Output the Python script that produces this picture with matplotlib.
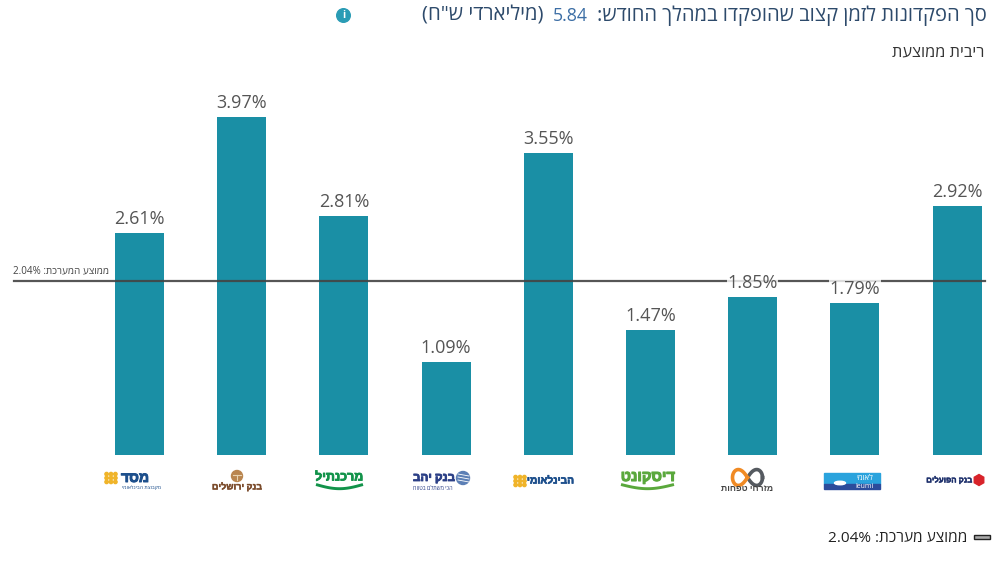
import re
import numpy as np
import matplotlib
matplotlib.use("Agg")
import matplotlib.pyplot as plt
import matplotlib.patheffects as pe
from matplotlib.patches import Circle, Rectangle, RegularPolygon, Ellipse

plt.rcParams["font.family"] = ["Open Sans", "Liberation Sans", "DejaVu Sans"]

# Average interest rate per bank, in percent
banks = ["מסד", "בנק ירושלים", "מרכנתיל", "בנק יהב", "הבינלאומי",
         "דיסקונט", "מזרחי טפחות", "לאומי", "בנק הפועלים"]
rates = [2.61, 3.97, 2.81, 1.09, 3.55, 1.47, 1.85, 1.79, 2.92]
system_avg = 2.04
total_deposits = 5.84

title_main = "סך הפקדונות לזמן קצוב שהופקדו במהלך החודש:"
title_unit = '(מיליארדי ש"ח)'
subtitle = "ריבית ממוצעת"
avg_line_label = "ממוצע המערכת:"
legend_label = "ממוצע מערכת:"

W, H = 999, 565
BAR = "#1a8fa5"
TEXT = "#555555"
NAVY = "#2d4a6b"
MIRROR = str.maketrans("()", ")(")


def rtl(s):
    """Return a Hebrew string in display order, since text layout here is left-to-right only."""
    flipped = s[::-1].translate(MIRROR)
    return re.sub(r"[0-9.%]+", lambda m: m.group(0)[::-1], flipped)


fig = plt.figure(figsize=(W / 100, H / 100), dpi=100, facecolor="white")

# Chart axes: one category step is 102.2 px, the zero line sits 110 px above the bottom edge
ax = fig.add_axes([0, 0, 1, 1])
px_per_cat = 102.2
px_per_unit = 85.15
first_x, zero_y = 139.5, 455
ax.set_xlim(-first_x / px_per_cat, (W - first_x) / px_per_cat)
ax.set_ylim((zero_y - H) / px_per_unit, zero_y / px_per_unit)
ax.axis("off")

positions = np.arange(len(banks))
ax.bar(positions, rates, width=0.48, color=BAR, zorder=2)
ax.axhline(system_avg, xmin=14 / W, xmax=985 / W, color="#444444", lw=1.6, alpha=0.9, zorder=3)
for x, v in zip(positions, rates):
    ax.annotate(f"{v:.2f}%", (x, v), xytext=(0, 3.6), textcoords="offset points", ha="center", va="bottom",
                fontsize=13, color=TEXT, zorder=5,
                bbox=dict(boxstyle="square,pad=0.02", fc="white", ec="none", alpha=0.8))

# Overlay in pixel units for headings, legend and bank marks
px = fig.add_axes([0, 0, 1, 1], facecolor="none")
px.set_xlim(0, W)
px.set_ylim(H, 0)
px.axis("off")


def fit(s, x0, x1, y, color, weight="normal", stroke=0):
    """Place text so that it spans x0..x1 horizontally."""
    t = px.text((x0 + x1) / 2, y, rtl(s), ha="center", va="center", fontsize=10,
                color=color, fontweight=weight)
    w = t.get_window_extent(fig.canvas.get_renderer()).width
    t.set_fontsize(10 * (x1 - x0) / w)
    if stroke:
        t.set_path_effects([pe.withStroke(linewidth=stroke, foreground=color)])
    return t


fit(title_main, 598, 985, 16, NAVY)
px.text(570.5, 16, f"{total_deposits:.2f}", ha="center", va="center", fontsize=12.8, color="#3c6ea5")
fit(title_unit, 422, 543, 16, NAVY)
fit(subtitle, 892, 984, 52.5, "#333333")
px.add_patch(Circle((343.5, 15.5), 6.8, color="#2a9cb5"))
px.text(343.5, 15.5, "i", ha="center", va="center", fontsize=7.5, color="white", fontweight="bold")

fit(f"{avg_line_label} {system_avg:.2f}%", 13, 109, 271, "#444444")

fit(f"{legend_label} {system_avg:.2f}%", 828, 967, 538, "#222222")
px.add_patch(Rectangle((973.5, 535), 16, 4, fc="#aaaaaa", ec="#222222", lw=1.0))


def flower(cx, cy, color="#f0b429"):
    for i in range(-1, 2):
        for j in range(-1, 2):
            px.add_patch(Circle((cx + i * 4.4, cy + j * 3.9), 1.7, color=color))


def smile(x0, x1, y, color):
    t = np.linspace(0, 1, 40)
    xs = x0 + (x1 - x0) * t
    curve = 4.2 * np.sin(np.pi * t)
    px.plot(xs, y + curve, color=color, lw=2.1, solid_capstyle="butt")


def infinity(cx, cy, a):
    t = np.linspace(0, 2 * np.pi, 200)
    xs = cx + a * np.cos(t) / (1 + np.sin(t) ** 2)
    ys = cy + 1.5 * a * np.sin(t) * np.cos(t) / (1 + np.sin(t) ** 2)
    right = xs >= cx
    px.plot(np.where(right, xs, np.nan), ys, color="#555a60", lw=2.6)
    px.plot(np.where(right, np.nan, xs), ys, color="#f08a24", lw=2.6)


# Bank marks along the category axis
GREEN_M, GREEN_D, BLUE = "#12934a", "#5aa83c", "#1d4f8c"

flower(111, 478)
fit("מסד", 121, 149, 478, BLUE, "bold", 0.7)
fit("מקבוצת הבינלאומי", 122, 161, 488, BLUE)

px.add_patch(Circle((237, 476), 5.5, color="#b9854f"))
px.plot([233, 241], [475, 475], color="#e8d2b0", lw=0.8)
px.plot([237, 237], [475, 480], color="#e8d2b0", lw=0.8)
fit("בנק ירושלים", 212, 262, 487, "#7a4a2a", "bold", 0.3)

fit("מרכנתיל", 315, 363, 477, GREEN_M, "bold", 0.6)
smile(316, 363, 484.5, GREEN_M)

fit("בנק יהב", 413, 455, 477.5, "#2b3f86", "bold", 0.6)
px.add_patch(Circle((463, 478), 6.5, color="#5c7fb5"))
for dy in (-3, 0, 3):
    px.plot([458, 469], [478 + dy - 1, 478 + dy + 1], color="white", lw=0.6)
fit("הכי משתלם בטווח", 413, 453, 488, "#2b3f86")

flower(520, 481)
fit("הבינלאומי", 527, 574, 481, BLUE, "bold", 0.5)

fit("דיסקונט", 621, 675, 477, GREEN_D, "bold", 0.8)
smile(621, 674, 484.5, GREEN_D)

infinity(747.5, 477.5, 15)
fit("מזרחי טפחות", 721, 773, 488.5, "#444444", "bold")

px.add_patch(Rectangle((824, 473), 56, 10.5, color="#2aa3dd"))
px.add_patch(Rectangle((824, 483.5), 56, 5.5, color="#2b4c9b"))
px.add_patch(Ellipse((840, 483), 11, 3.5, color="white"))
fit("לאומי", 856, 873, 478, "white")
px.text(864, 486.3, "leumi", ha="center", va="center", fontsize=5, color="white")

fit("בנק הפועלים", 926, 972, 480, "#1c2f6b", "bold", 0.3)
px.add_patch(RegularPolygon((979, 480), 6, radius=5.5, color="#d8232a"))

fig.savefig("out.png", dpi=100, facecolor="white")
